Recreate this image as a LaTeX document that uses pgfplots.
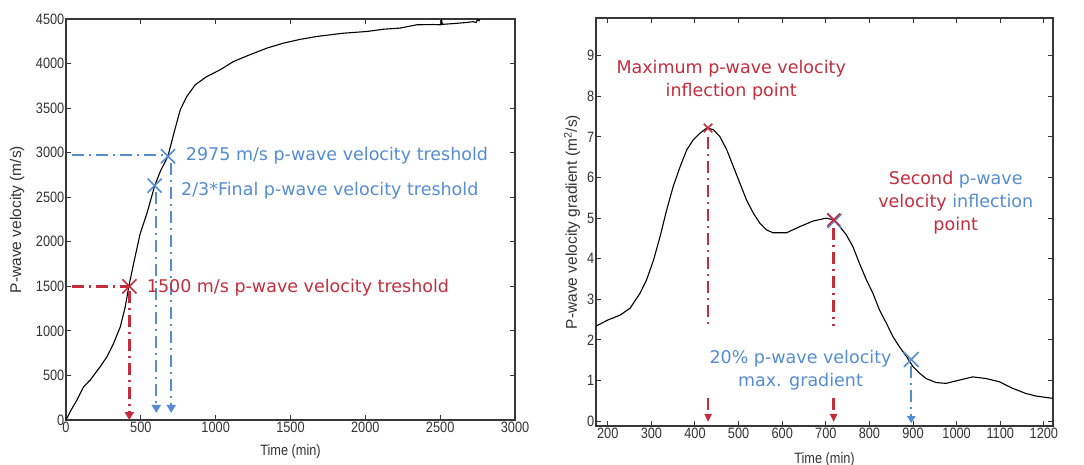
\documentclass[border=0pt]{standalone}
\usepackage{pgfplots}
\pgfplotsset{compat=1.18}
\usepackage{fontspec}
\setmainfont{Liberation Sans}
\newfontfamily\narrowfont{Liberation Sans}[FakeStretch=0.85]
\newfontfamily\annfont{DejaVu Sans}
\usetikzlibrary{arrows.meta}
\definecolor{myred}{RGB}{195,45,60}
\definecolor{myblue}{RGB}{85,140,210}
\definecolor{axgray}{RGB}{55,55,55}
\tikzset{
  dashline/.style={line width=2.4pt, dash pattern=on 12pt off 5pt on 2pt off 5pt},
  ann/.style={inner sep=0pt, font=\annfont\fontsize{17.5}{23}\selectfont},
}
\pgfplotsset{
  mystyle/.style={
    scale only axis,
    axis line style={axgray,line width=1.1pt},
    tick style={axgray,line width=1pt},
    major tick length=5pt,
    tick align=inside,
    tick pos=both,
    /pgf/number format/assume math mode=true,
    /pgf/number format/set thousands separator={},
    tick label style={font=\narrowfont\fontsize{15}{15}\selectfont, text=black!80},
    xticklabel style={inner sep=1pt, yshift=-1pt},
    yticklabel style={inner sep=1.5pt},
    xlabel style={font=\narrowfont\fontsize{15}{15}\selectfont, text=black!80},
    ylabel style={font=\fontsize{15.5}{15.5}\selectfont, text=black!80},
  },
}
\begin{document}
\begin{tikzpicture}
\useasboundingbox (0pt,0pt) rectangle (1084pt,464pt);
% ---------------- Left axis ----------------
\begin{axis}[mystyle,
  at={(66pt,44pt)}, anchor=south west,
  width=449pt, height=401pt,
  xmin=0, xmax=3000, ymin=0, ymax=4500,
  xtick={0,500,...,3000}, ytick={0,500,...,4500},
  xlabel={Time (min)}, ylabel={P-wave velocity (m/s)},
  xlabel style={at={(axis description cs:0.5,-0.08)}, anchor=center},
  ylabel style={at={(axis description cs:-0.109,0.5)}, anchor=center},
]
\addplot[black, line width=1.1pt] coordinates {
(0,0) (30,100) (73,224) (118,374) (162,449) (229,599) (274,711) (318,860)
(363,1047) (396,1272) (420,1500) (452,1758) (496,2095) (541,2320) (592,2625)
(630,2790) (681,2960) (718,3200) (763,3480) (807,3630) (863,3761) (941,3855)
(1030,3930) (1119,4023) (1230,4100) (1342,4173) (1453,4229) (1560,4270)
(1676,4304) (1850,4340) (2010,4360) (2120,4385) (2232,4398) (2343,4435)
(2450,4438) (2505,4435) (2510,4485) (2515,4440) (2600,4450) (2677,4461)
(2720,4470) (2740,4460) (2750,4495) (2760,4480) (2765,4500)
};
\addplot[myred, dashline] coordinates {(40,1500) (423,1500)};
\addplot[myred, dashline, -{Triangle[width=9pt,length=8pt]}] coordinates {(423,1450) (423,0)};
\addplot[myblue, dashline] coordinates {(40,2975) (681,2975)};
\addplot[myblue, dashline, -{Triangle[width=9pt,length=8pt]}] coordinates {(603,2560) (603,80)};
\addplot[myblue, dashline, -{Triangle[width=9pt,length=8pt]}] coordinates {(703,2880) (703,80)};
\addplot[only marks, mark=x, mark size=10pt, myred, mark options={line width=1.6pt}] coordinates {(423,1500)};
\addplot[only marks, mark=x, mark size=10pt, myblue, mark options={line width=1.6pt}] coordinates {(592,2630) (681,2960)};
\node[ann, anchor=west, text=myblue] at (axis cs:800,2963) {2975 m/s p-wave velocity treshold};
\node[ann, anchor=west, text=myblue] at (axis cs:768,2573) {2/3*Final p-wave velocity treshold};
\node[ann, anchor=west, text=myred] at (axis cs:539,1489) {1500 m/s p-wave velocity treshold};
\end{axis}
% ---------------- Right axis ----------------
\begin{axis}[mystyle,
  at={(596pt,38pt)}, anchor=south west,
  width=457pt, height=408pt,
  xmin=173, xmax=1221, ymin=-0.12, ymax=9.93,
  xtick={200,300,...,1200}, ytick={0,1,...,9},
  xlabel={Time (min)}, ylabel={P-wave velocity gradient (m\textsuperscript{2}/s)},
  xlabel style={at={(axis description cs:0.5,-0.083)}, anchor=center},
  ylabel style={at={(axis description cs:-0.0525,0.5)}, anchor=center},
]
\addplot[myred, dashline] coordinates {(430,7.0) (430,2.35)};
\addplot[myred, dashline, -{Triangle[width=7pt,length=8pt]}] coordinates {(430,0.56) (430,-0.02)};
\addplot[myred, dashline] coordinates {(718,4.75) (718,2.35)};
\addplot[myred, dashline, -{Triangle[width=7pt,length=8pt]}] coordinates {(718,0.56) (718,-0.02)};
\addplot[myblue, dashline, -{Triangle[width=8pt,length=7pt]}] coordinates {(896,1.35) (896,-0.05)};
\addplot[black, line width=1.1pt] coordinates {
(173,2.34) (200,2.49) (228,2.61) (251,2.78) (274,3.15) (289,3.48) (305,3.97)
(320,4.55) (335,5.20) (350,5.78) (366,6.27) (381,6.68) (396,6.93) (411,7.09)
(427,7.22) (442,7.18) (457,7.01) (473,6.68) (488,6.27) (503,5.86) (518,5.45)
(534,5.12) (549,4.87) (564,4.71) (579,4.64) (610,4.64) (640,4.79) (671,4.93)
(701,5.00) (717,4.96) (732,4.79) (747,4.59) (762,4.30) (777,3.89) (793,3.48)
(808,3.15) (823,2.74) (839,2.41) (854,2.08) (869,1.83) (885,1.59) (900,1.34)
(915,1.18) (930,1.05) (953,0.95) (976,0.93) (1006,1.01) (1037,1.09) (1067,1.05)
(1098,0.97) (1128,0.81) (1159,0.68) (1181,0.62) (1221,0.56)
};
\addplot[only marks, mark=x, mark size=6pt, myred, mark options={line width=1.6pt}] coordinates {(430,7.22)};
\addplot[only marks, mark=x, mark size=10pt, myblue, mark options={line width=1.6pt}] coordinates {(720,4.93)};
\addplot[only marks, mark=x, mark size=9pt, myred, mark options={line width=1.6pt}] coordinates {(718,4.96)};
\addplot[only marks, mark=x, mark size=10.5pt, myblue, mark options={line width=1.6pt}] coordinates {(896,1.52)};
\node[ann, align=center, text=myred] at (axis cs:483,8.39) {Maximum p-wave velocity\\inflection point};
\node[ann, align=center] at (axis cs:998,5.37) {\textcolor{myred}{Second} \textcolor{myblue}{p-wave}\\\textcolor{myred}{velocity} \textcolor{myblue}{inflection}\\\textcolor{myred}{point}};
\node[ann, align=center, text=myblue] at (axis cs:642,1.26) {20\% p-wave velocity\\max. gradient};
\end{axis}
\end{tikzpicture}
\end{document}
